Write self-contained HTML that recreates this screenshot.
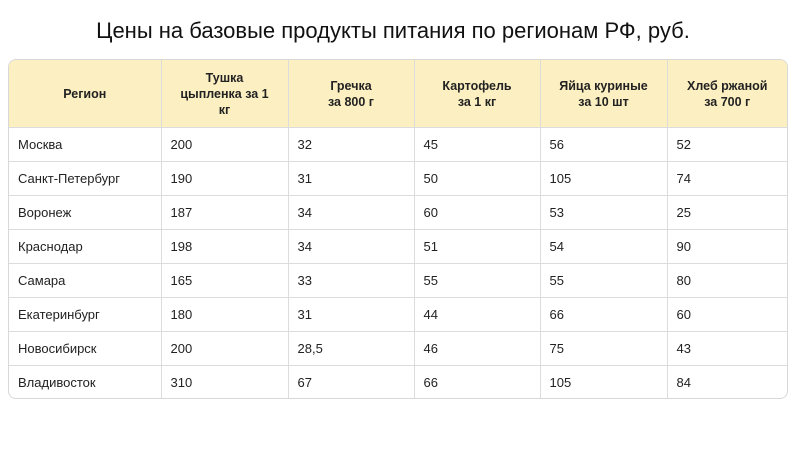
<!DOCTYPE html>
<html><head><meta charset="utf-8"><style>
body{margin:0;width:800px;height:449px;background:#fff;font-family:"Liberation Sans","DejaVu Sans",sans-serif;overflow:hidden}
h1{position:absolute;top:18px;left:0;width:786px;margin:0;text-align:center;font-size:22px;font-weight:normal;color:#111}
.wrap{position:absolute;left:8px;top:59px;width:780px;height:340px;border:1px solid #d8d8d8;border-radius:8px;overflow:hidden;box-sizing:border-box}
table{border-collapse:collapse;width:100%;table-layout:fixed}
th{background:#fcf0c2;height:67px;font-size:12.5px;font-weight:bold;color:#222;text-align:center;border-left:1px solid #dcdcdc;border-bottom:1px solid #dcdcdc;line-height:16px;padding:0 6px}
td{height:33px;border-left:1px solid #dcdcdc;border-top:1px solid #dcdcdc;font-size:13px;color:#222;padding:0 0 0 9px}
th:first-child,td:first-child{border-left:none}
</style></head><body>
<h1>Цены на базовые продукты питания по регионам РФ, руб.</h1>
<div class="wrap"><table>
<colgroup><col style="width:152px"><col style="width:127px"><col style="width:126px"><col style="width:126px"><col style="width:127px"><col></colgroup>
<tr><th>Регион</th><th>Тушка<br>цыпленка за 1<br>кг</th><th>Гречка<br>за 800 г</th><th>Картофель<br>за 1 кг</th><th>Яйца куриные<br>за 10 шт</th><th>Хлеб ржаной<br>за 700 г</th></tr>
<tr><td>Москва</td><td>200</td><td>32</td><td>45</td><td>56</td><td>52</td></tr>
<tr><td>Санкт-Петербург</td><td>190</td><td>31</td><td>50</td><td>105</td><td>74</td></tr>
<tr><td>Воронеж</td><td>187</td><td>34</td><td>60</td><td>53</td><td>25</td></tr>
<tr><td>Краснодар</td><td>198</td><td>34</td><td>51</td><td>54</td><td>90</td></tr>
<tr><td>Самара</td><td>165</td><td>33</td><td>55</td><td>55</td><td>80</td></tr>
<tr><td>Екатеринбург</td><td>180</td><td>31</td><td>44</td><td>66</td><td>60</td></tr>
<tr><td>Новосибирск</td><td>200</td><td>28,5</td><td>46</td><td>75</td><td>43</td></tr>
<tr><td>Владивосток</td><td>310</td><td>67</td><td>66</td><td>105</td><td>84</td></tr>
</table></div>
</body></html>
